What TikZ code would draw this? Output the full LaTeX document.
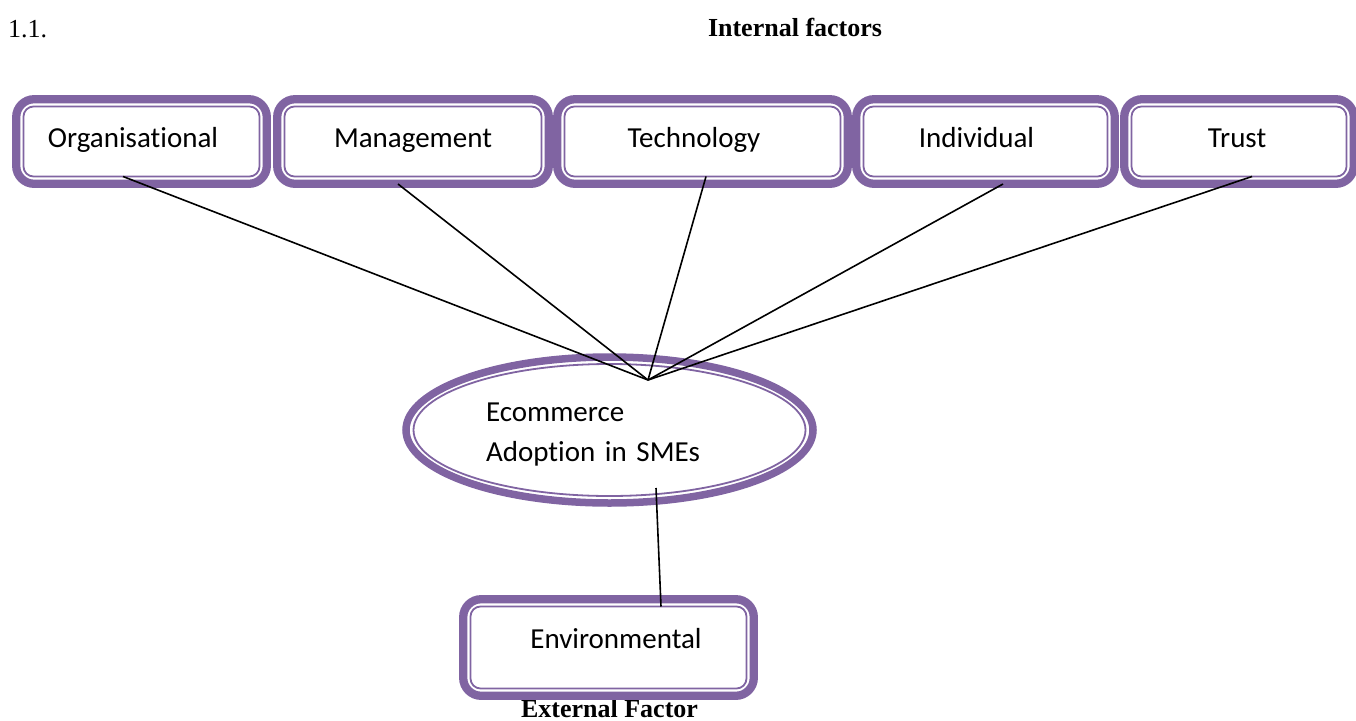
\documentclass[tikz,border=0pt]{standalone}
\usepackage{fontspec}
\setmainfont{Liberation Serif}
\newfontfamily\boxfont[Ligatures=NoCommon]{Carlito}
\usetikzlibrary{shapes.geometric}
\definecolor{framepurple}{HTML}{8064A2}
\begin{document}
\begin{tikzpicture}[x=1pt, y=-1pt,
    factor/.style={draw=framepurple, line width=1.8pt, rounded corners=10pt,
        minimum height=70pt, inner sep=0pt, outer sep=0pt, text height=19pt, text depth=7pt,
        font=\boxfont\fontsize{29}{34}\selectfont},
    outerframe/.style={draw=framepurple, line width=8.3pt, rounded corners=18pt},
    connector/.style={line width=1.6pt},
    heading/.style={font=\fontsize{26}{30}\selectfont\bfseries, inner sep=0pt}]
    \useasboundingbox (0,0) rectangle (1356,720);
    \node[anchor=base west, inner sep=0pt, font=\fontsize{26}{30}\selectfont] (num) at (8,37){1.1.};
    \node[heading, anchor=base] (intlabel) at (795,36){Internal factors};
    \node[factor, minimum width=236pt] (org) at (141.5,141.5){Organisational\kern17pt};
    \node[factor, minimum width=257pt] (mgmt) at (413,141.5){Management};
    \node[factor, minimum width=276pt] (tech) at (702.5,141.5){Technology\kern17pt};
    \node[factor, minimum width=244pt] (indiv) at (985.5,141.5){Individual\kern18pt};
    \node[factor, minimum width=215pt] (trust) at (1239,141.5){Trust\kern4pt};
    \node[factor, minimum width=276pt, minimum height=82pt, text depth=18pt] (env) at (608.5,647.5){\kern15pt Environmental};
    \node[ellipse, draw=framepurple, line width=1.8pt, minimum width=392pt, minimum height=132pt,
        inner sep=0pt, outer sep=0pt, text width=247pt, align=left,
        font=\boxfont\fontsize{29}{40}\selectfont] (eco) at (609.5,430){\rule{0pt}{27pt}Ecommerce\\Adoption in SMEs};
    \node[heading, anchor=base] (extlabel) at (609.5,717){External Factor};
    \foreach \n in {org,mgmt,tech,indiv,trust,env}
        \draw[outerframe] ([xshift=-7.3pt,yshift=7.3pt]\n.north west) rectangle ([xshift=7.3pt,yshift=-7.3pt]\n.south east);
    \draw[framepurple, line width=7.5pt] (eco.center) ellipse [x radius=203.5pt, y radius=73pt];
    \coordinate (hub) at (648,380);
    \draw[connector] ([xshift=-18.5pt]org.south) -- (hub);
    \draw[connector] ([xshift=-15pt,yshift=-7.5pt]mgmt.south) -- (hub);
    \draw[connector] ([xshift=3.5pt]tech.south) -- (hub);
    \draw[connector] ([xshift=17.5pt,yshift=-7.5pt]indiv.south) -- (hub);
    \draw[connector] ([xshift=13pt]trust.south) -- (hub);
    \draw[connector] ([xshift=46.5pt,yshift=8pt]eco.south) -- ([xshift=52.5pt]env.north);
\end{tikzpicture}
\end{document}
